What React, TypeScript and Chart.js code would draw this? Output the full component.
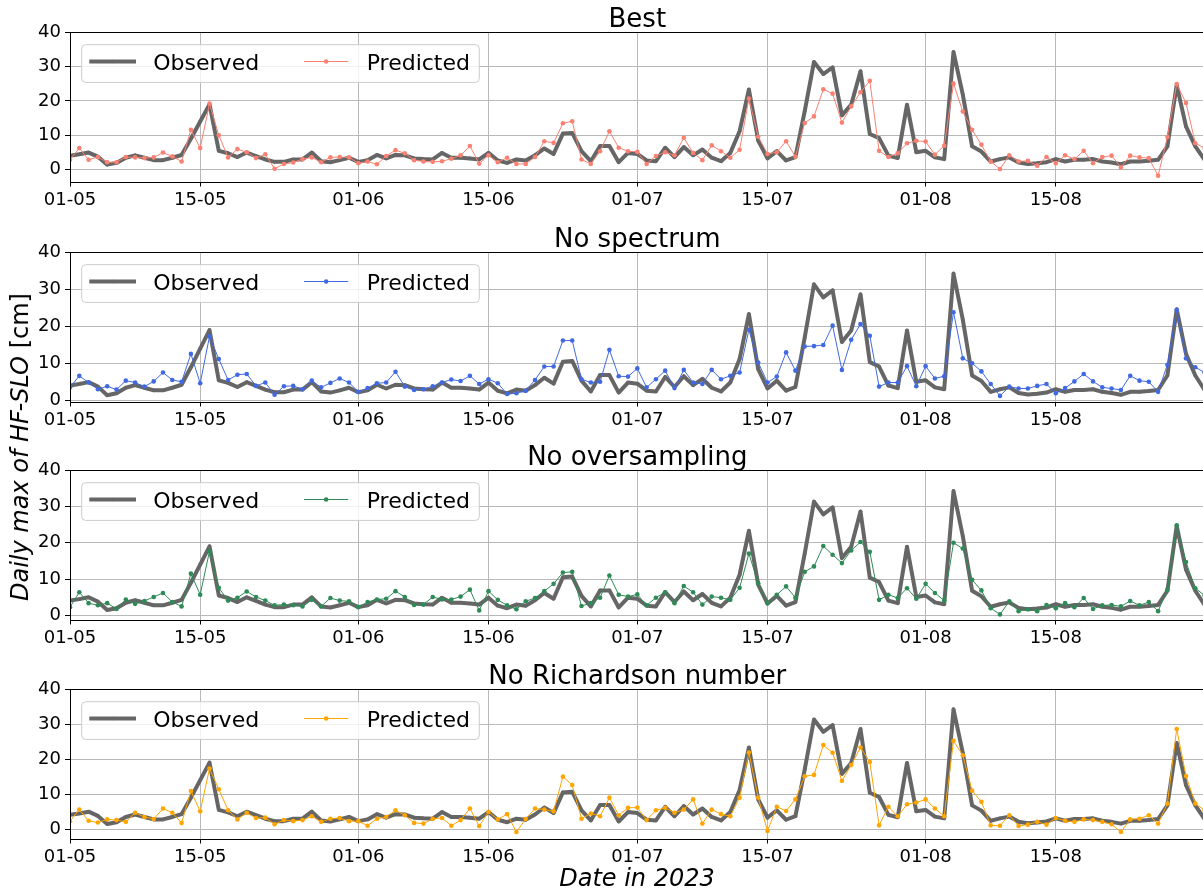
import React, { useEffect, useRef } from 'react';
import { Chart, registerables } from 'chart.js';

Chart.register(...registerables);

const FONT = "'DejaVu Sans', sans-serif";

// x tick positions (days after 2023-05-01) and their labels
const tickDays = [0, 14, 31, 45, 61, 75, 92, 106];
const tickLabels = ['01-05', '15-05', '01-06', '15-06', '01-07', '15-07', '01-08', '15-08'];
const xMax = 122; // 31-08

const observed = [
  4.1, 4.5, 5.0, 3.8, 1.5, 2.0, 3.5, 4.2, 3.5, 2.8,
  2.8, 3.5, 4.3, 9.0, 14.0, 19.0, 5.5, 4.8, 3.7, 5.0,
  4.0, 3.0, 2.3, 2.3, 3.0, 3.0, 5.0, 2.5, 2.2, 2.8,
  3.5, 2.3, 2.8, 4.3, 3.3, 4.3, 4.2, 3.3, 3.1, 3.0,
  4.9, 3.5, 3.5, 3.3, 3.0, 4.9, 2.7, 2.0, 3.0, 2.7,
  4.2, 6.2, 4.6, 10.5, 10.7, 5.4, 2.5, 6.9, 6.9, 2.2,
  4.9, 4.6, 2.7, 2.5, 6.4, 3.7, 6.6, 4.2, 5.9, 3.5,
  2.5, 4.9, 11.2, 23.3, 8.5, 3.3, 5.4, 2.7, 3.7, 17.0,
  31.3, 27.8, 29.7, 15.8, 18.9, 28.6, 10.4, 9.2, 4.1, 3.4,
  18.9, 5.1, 5.5, 3.6, 3.1, 34.2, 21.8, 6.8, 5.3, 2.4,
  3.1, 3.6, 2.1, 1.7, 1.9, 2.2, 3.1, 2.4, 2.9, 2.9,
  3.1, 2.4, 2.1, 1.6, 2.4, 2.4, 2.6, 2.9, 6.8, 24.6,
  12.6, 6.8, 2.9,
];

const predBest = [
  2.9, 6.3, 2.9, 3.7, 2.2, 2.2, 3.7, 3.6, 3.4, 3.6,
  5.0, 3.9, 2.4, 11.6, 6.3, 19.2, 10.0, 3.6, 6.0, 5.1,
  3.4, 4.5, 0.3, 1.7, 2.1, 3.1, 3.6, 2.2, 3.6, 3.7,
  3.6, 1.9, 2.4, 1.6, 4.0, 5.7, 4.8, 2.8, 2.4, 2.3,
  2.5, 3.2, 4.2, 6.9, 1.8, 4.2, 2.2, 3.5, 1.7, 1.7,
  3.7, 8.3, 7.8, 13.5, 14.1, 3.0, 1.7, 5.4, 11.2, 6.4,
  5.4, 5.2, 1.7, 4.0, 5.1, 4.2, 9.3, 4.9, 2.8, 7.1,
  5.4, 3.5, 5.8, 20.7, 9.6, 4.6, 5.1, 8.3, 3.8, 13.6,
  15.5, 23.4, 22.1, 13.7, 18.4, 22.5, 25.8, 5.5, 3.7, 4.8,
  7.7, 8.4, 8.2, 4.4, 7.0, 25.0, 16.9, 11.6, 7.3, 2.4,
  0.2, 4.2, 2.4, 2.6, 1.2, 3.7, 1.9, 4.2, 3.1, 5.5,
  1.9, 3.7, 4.1, 0.7, 4.1, 3.6, 3.4, -1.7, 9.5, 24.9,
  19.4, 7.7, 6.3,
];

const predNoSpectrum = [
  3.6, 6.7, 4.9, 3.1, 3.9, 3.0, 5.4, 4.9, 3.8, 5.2,
  7.6, 5.6, 5.1, 12.6, 4.7, 17.3, 11.2, 5.6, 7.0, 7.2,
  4.0, 4.9, 1.6, 3.9, 4.0, 3.1, 5.4, 3.6, 4.8, 6.0,
  4.9, 2.4, 3.4, 4.7, 4.9, 7.8, 3.8, 2.9, 3.1, 3.9,
  4.9, 5.7, 5.3, 6.7, 4.5, 5.8, 4.7, 1.8, 2.0, 2.7,
  5.6, 9.2, 9.2, 16.2, 16.2, 5.8, 4.9, 5.1, 13.7, 6.6,
  6.5, 8.7, 3.6, 5.8, 8.1, 3.4, 8.3, 4.9, 4.5, 8.3,
  5.8, 6.7, 7.6, 19.1, 10.3, 4.9, 6.5, 13.0, 8.1, 14.6,
  14.7, 15.0, 20.2, 8.3, 16.4, 20.6, 17.5, 3.8, 4.9, 4.9,
  9.3, 3.9, 9.3, 6.0, 6.6, 23.8, 11.4, 10.1, 7.9, 4.5,
  1.3, 3.8, 3.3, 3.3, 4.0, 4.5, 2.0, 3.4, 5.2, 7.2,
  5.2, 3.6, 3.3, 2.9, 6.7, 5.4, 5.1, 2.4, 9.7, 24.4,
  11.4, 9.0, 7.6,
];

const predNoOversampling = [
  2.3, 6.4, 3.4, 2.8, 3.4, 1.8, 4.4, 3.2, 4.0, 5.1,
  6.2, 3.7, 2.5, 11.5, 5.7, 17.7, 7.6, 4.1, 4.9, 6.6,
  5.1, 4.1, 2.8, 3.0, 2.8, 2.5, 4.3, 2.5, 4.8, 4.1,
  3.9, 2.3, 3.7, 4.4, 4.6, 6.7, 5.1, 2.9, 3.0, 5.1,
  4.4, 4.4, 5.2, 7.1, 1.4, 6.7, 4.3, 2.8, 1.7, 3.9,
  4.8, 6.7, 8.7, 11.8, 12.0, 2.6, 3.4, 4.9, 11.0, 5.7,
  5.2, 5.8, 2.8, 4.9, 6.4, 3.4, 8.1, 6.4, 3.0, 5.2,
  4.9, 4.3, 7.6, 17.0, 8.9, 3.4, 5.7, 8.0, 4.9, 12.0,
  13.5, 19.1, 16.7, 14.4, 17.9, 20.2, 17.5, 4.3, 5.7, 4.8,
  7.5, 4.6, 8.7, 6.2, 4.1, 20.0, 18.4, 9.8, 6.9, 2.0,
  0.3, 3.9, 1.2, 1.7, 1.2, 2.9, 2.0, 3.4, 2.3, 4.8,
  1.8, 2.8, 2.9, 2.5, 4.0, 2.8, 3.7, 1.2, 7.1, 24.8,
  14.7, 7.5, 5.5,
];

const predNoRichardson = [
  2.3, 5.6, 2.4, 1.9, 2.8, 2.6, 2.1, 4.7, 3.5, 2.9,
  5.9, 4.7, 1.8, 10.9, 5.1, 17.3, 11.4, 5.4, 2.8, 4.7,
  3.2, 3.3, 1.4, 2.6, 2.3, 2.6, 3.7, 2.1, 3.0, 3.2,
  2.3, 2.3, 1.0, 3.0, 3.5, 5.4, 4.0, 1.8, 1.6, 3.0,
  3.2, 1.0, 2.6, 5.9, 0.9, 5.0, 2.8, 4.3, -0.8, 2.9,
  5.9, 5.6, 5.1, 15.0, 12.6, 3.0, 4.5, 3.7, 9.0, 4.0,
  6.1, 6.2, 2.6, 5.4, 6.1, 4.7, 5.6, 8.5, 1.6, 5.6,
  4.3, 3.7, 9.0, 21.9, 9.0, -0.5, 6.4, 5.2, 8.5, 15.1,
  15.5, 24.0, 21.8, 13.8, 18.3, 23.3, 19.2, 1.1, 6.4, 3.7,
  7.1, 7.6, 8.5, 5.9, 3.7, 25.2, 21.1, 11.0, 7.8, 1.1,
  1.0, 4.0, 0.9, 1.3, 2.1, 1.3, 3.2, 2.4, 2.1, 2.8,
  2.6, 2.1, 1.4, -0.8, 2.8, 3.0, 4.0, 1.6, 7.3, 28.6,
  15.2, 7.3, 5.4,
];

const panelTitles = ['Best', 'No spectrum', 'No oversampling', 'No Richardson number'];
const panelPredicted = [predBest, predNoSpectrum, predNoOversampling, predNoRichardson];
const panelColors = ['#FA8072', '#4169E1', '#2E8B57', '#FFA500'];
const panelYMin = [-3.4, -0.2, -1.1, -2.65];
const yTicks = [0, 10, 20, 30, 40];
const yMax = 40;

const OBS_COLOR = '#666666';
const dayIndex = observed.map((_, i) => i);

// layout constants
const CANVAS_W = 1215;
const CANVAS_H = 218;
const PLOT_TOP = 32;
const X_AXIS_H = 36.5;
const Y_AXIS_W = 70;
const RIGHT_PAD = 10.4;
const panelTops = [0, 220, 438, 657];

const decorPlugin = {
  id: 'panelDecor',
  afterDatasetsDraw(chart: any, _args: any, opts: any) {
    const ctx = chart.ctx;
    const ca = chart.chartArea;
    ctx.save();
    // frame (spines)
    ctx.strokeStyle = '#000';
    ctx.lineWidth = 1;
    const l = Math.round(ca.left) + 0.5;
    const t = Math.round(ca.top) + 0.5;
    const r = Math.round(ca.right) + 0.5;
    const b = Math.round(ca.bottom) + 0.5;
    ctx.strokeRect(l, t, r - l, b - t);

    // title
    ctx.fillStyle = '#000';
    ctx.font = `26px ${FONT}`;
    ctx.textAlign = 'center';
    ctx.textBaseline = 'alphabetic';
    ctx.fillText(opts.title, (ca.left + ca.right) / 2, ca.top - 5);

    // legend
    const bx = ca.left + 11.7;
    const by = ca.top + 12.7;
    const bw = 397.6;
    const bh = 37.7;
    ctx.beginPath();
    ctx.roundRect(bx, by, bw, bh, 4);
    ctx.fillStyle = 'rgba(255,255,255,0.8)';
    ctx.fill();
    ctx.strokeStyle = '#cccccc';
    ctx.lineWidth = 1;
    ctx.stroke();
    const entries = [
      { off: 7.6, len: 46.7, textOff: 71.6 },
      { off: 222.3, len: 44.3, textOff: 285 },
    ];
    const ly = by + 16.8;
    chart.data.datasets.forEach((ds: any, i: number) => {
      const e = entries[i];
      if (!e) return;
      ctx.beginPath();
      ctx.strokeStyle = ds.borderColor;
      ctx.lineWidth = ds.borderWidth;
      ctx.lineCap = 'butt';
      ctx.moveTo(bx + e.off, ly);
      ctx.lineTo(bx + e.off + e.len, ly);
      ctx.stroke();
      ctx.beginPath();
      ctx.fillStyle = ds.pointBackgroundColor;
      ctx.arc(bx + e.off + e.len / 2, ly, ds.pointRadius, 0, Math.PI * 2);
      ctx.fill();
      ctx.fillStyle = '#000';
      ctx.font = `22px ${FONT}`;
      ctx.textAlign = 'left';
      ctx.textBaseline = 'alphabetic';
      ctx.fillText(ds.label, bx + e.textOff, by + 25.3);
    });
    ctx.restore();
  },
};

function makeConfig(title: string, predicted: number[], color: string, yMin: number): any {
  const toPts = (arr: number[]) => arr.map((y, i) => ({ x: dayIndex[i], y }));
  return {
    type: 'line',
    data: {
      datasets: [
        {
          label: 'Observed',
          data: toPts(observed),
          borderColor: OBS_COLOR,
          backgroundColor: OBS_COLOR,
          pointBackgroundColor: OBS_COLOR,
          borderWidth: 4,
          pointRadius: 1.8,
          pointBorderWidth: 0,
          borderJoinStyle: 'round',
          tension: 0,
          order: 2,
        },
        {
          label: 'Predicted',
          data: toPts(predicted),
          borderColor: color,
          backgroundColor: color,
          pointBackgroundColor: color,
          borderWidth: 1,
          pointRadius: 2.3,
          pointBorderWidth: 0,
          borderJoinStyle: 'round',
          tension: 0,
          order: 1,
        },
      ],
    },
    options: {
      animation: false,
      responsive: false,
      devicePixelRatio: 1,
      events: [],
      layout: { padding: { top: PLOT_TOP, left: 0, right: RIGHT_PAD, bottom: 0 } },
      plugins: {
        legend: { display: false },
        tooltip: { enabled: false },
        title: { display: false },
        panelDecor: { title },
      },
      scales: {
        x: {
          type: 'linear',
          min: 0,
          max: xMax,
          afterBuildTicks: (s: any) => {
            s.ticks = tickDays.map((v) => ({ value: v }));
          },
          afterFit: (s: any) => {
            s.height = X_AXIS_H;
          },
          ticks: {
            autoSkip: false,
            maxRotation: 0,
            minRotation: 0,
            padding: 3,
            color: '#000',
            font: { family: FONT, size: 18 },
            callback: (v: number) => {
              const k = tickDays.indexOf(v);
              return k >= 0 ? tickLabels[k] : '';
            },
          },
          grid: { color: '#b8b8b8', lineWidth: 1, tickColor: '#000', tickLength: 5, drawTicks: true },
          border: { display: false },
        },
        y: {
          type: 'linear',
          min: yMin,
          max: yMax,
          afterBuildTicks: (s: any) => {
            s.ticks = yTicks.map((v) => ({ value: v }));
          },
          afterFit: (s: any) => {
            s.width = Y_AXIS_W;
          },
          ticks: {
            padding: 4,
            color: '#000',
            font: { family: FONT, size: 18 },
            callback: (v: number) => String(v),
          },
          grid: { color: '#b8b8b8', lineWidth: 1, tickColor: '#000', tickLength: 5, drawTicks: true },
          border: { display: false },
        },
      },
    },
    plugins: [decorPlugin],
  };
}

function Panel({ idx }: { idx: number }) {
  const ref = useRef<HTMLCanvasElement | null>(null);
  useEffect(() => {
    if (!ref.current) return;
    const chart = new Chart(
      ref.current,
      makeConfig(panelTitles[idx], panelPredicted[idx], panelColors[idx], panelYMin[idx])
    );
    return () => chart.destroy();
  }, [idx]);
  return (
    <canvas
      ref={ref}
      width={CANVAS_W}
      height={CANVAS_H}
      style={{ position: 'absolute', left: 0, top: panelTops[idx], width: CANVAS_W, height: CANVAS_H }}
    />
  );
}

export default function App() {
  return (
    <div
      style={{
        position: 'fixed',
        left: 0,
        top: 0,
        width: 1203,
        height: 890,
        overflow: 'hidden',
        background: '#fff',
        fontFamily: FONT,
        color: '#000',
      }}
    >
      {panelTitles.map((_, i) => (
        <Panel key={i} idx={i} />
      ))}
      <div
        style={{
          position: 'absolute',
          left: 20,
          top: 447,
          transform: 'translate(-50%, -50%) rotate(-90deg)',
          fontSize: 24,
          lineHeight: '24px',
          whiteSpace: 'nowrap',
        }}
      >
        <i>Daily max of HF-SLO</i> [cm]
      </div>
      <div
        style={{
          position: 'absolute',
          left: 637,
          top: 866,
          transform: 'translateX(-50%)',
          fontSize: 24,
          lineHeight: '24px',
          whiteSpace: 'nowrap',
        }}
      >
        <i>Date in 2023</i>
      </div>
    </div>
  );
}
